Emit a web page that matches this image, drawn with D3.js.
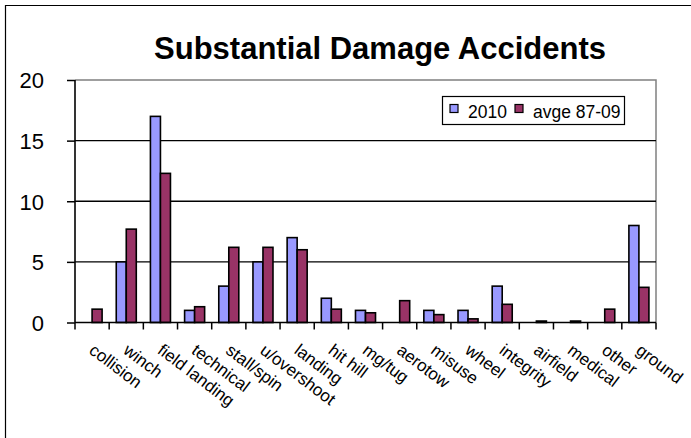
<!DOCTYPE html>
<html><head><meta charset="utf-8">
<script src="https://cdn.jsdelivr.net/npm/d3@7"></script>
<style>body{margin:0;background:#fff}svg{display:block;font-family:"Liberation Sans",Arial,sans-serif}</style>
</head><body><svg id="c" width="691" height="438"></svg>
<script>
const categories = ["collision","winch","field landing","technical","stall/spin","u/overshoot","landing","hit hill","mg/tug","aerotow","misuse","wheel","integrity","airfield","medical","other","ground"];
const series = ["2010","avge 87-09"];
const values2010 = [0,5,17,1,3,5,7,2,1,0,1,1,3,0,0,0,8];
const valuesAvge = [1.1,7.7,12.3,1.3,6.2,6.2,6.0,1.1,0.8,1.8,0.65,0.3,1.5,0.12,0.12,1.1,2.9];
const yTicks = [0,5,10,15,20];
const colors = ["#9999FF","#993366"];
const title = "Substantial Damage Accidents";

const svg = d3.select("#c");
const L=75, R=656, T=80, B=322.5;
const x = d3.scaleBand().domain(categories).range([L,R]).padding(0);
const bw = x.bandwidth();
const xs = d3.scaleBand().domain(series).range([bw*0.207, bw*0.793]).padding(0);
const y = d3.scaleLinear().domain([0,20]).range([B,T]);

// outer frame (left & top visible)
svg.append("path").attr("d","M5.5,438 V5.5 H691").attr("fill","none").attr("stroke","#000").attr("stroke-width",1.2);

// title
svg.append("text").attr("x",380).attr("y",59).attr("text-anchor","middle")
  .attr("font-size",31).attr("font-weight","bold").text(title);

// plot area border (top/right gray)
svg.append("path").attr("d",`M${L},${T} H${R} V${B}`).attr("fill","none").attr("stroke","#808080").attr("stroke-width",1.5);

// gridlines
svg.append("g").selectAll("line").data(yTicks.filter(d=>d>0&&d<20)).join("line")
  .attr("x1",L).attr("x2",R).attr("y1",d=>y(d)).attr("y2",d=>y(d))
  .attr("stroke","#000").attr("stroke-width",1.3);

// bars
const data = categories.map((c,i)=>({c, vals:[values2010[i],valuesAvge[i]]}));
const g = svg.append("g").selectAll("g").data(data).join("g").attr("transform",d=>`translate(${x(d.c)},0)`);
g.selectAll("rect").data(d=>d.vals.map((v,k)=>({v,s:series[k],k})).filter(e=>e.v>0)).join("rect")
  .attr("x",d=>xs(d.s)).attr("width",xs.bandwidth())
  .attr("y",d=>y(d.v)).attr("height",d=>B-y(d.v))
  .attr("fill",d=>colors[d.k]).attr("stroke","#000").attr("stroke-width",1.6);

// y axis
const ya = svg.append("g").attr("transform",`translate(${L},0)`)
  .call(d3.axisLeft(y).tickValues(yTicks).tickSize(8).tickPadding(23));
ya.select(".domain").attr("stroke","#000").attr("stroke-width",1.6).attr("d",`M0,${T}V${B}`);
ya.selectAll(".tick line").attr("stroke","#000").attr("stroke-width",1.5);
ya.selectAll(".tick text").attr("font-size",22).attr("font-family","Liberation Sans, Arial").attr("fill","#000").attr("dy","0.36em");

// x axis
const xa = svg.append("g").attr("transform",`translate(0,${B})`)
  .call(d3.axisBottom(x).tickSize(0).tickFormat(""));
xa.select(".domain").attr("stroke","#000").attr("stroke-width",1.6).attr("d",`M${L},0H${R}`);
xa.selectAll(".tick").remove();
xa.selectAll("line.sep").data(d3.range(categories.length+1)).join("line").attr("class","sep")
  .attr("x1",i=>L+i*bw).attr("x2",i=>L+i*bw).attr("y1",0).attr("y2",7)
  .attr("stroke","#000").attr("stroke-width",1.5);
xa.selectAll("text.lbl").data(categories).join("text").attr("class","lbl")
  .attr("transform",d=>`translate(${x(d)+bw/2-4},${30}) rotate(37)`)
  .attr("font-size",17).attr("font-family","Liberation Sans, Arial").attr("fill","#000")
  .attr("text-anchor","start").text(d=>d);

// legend
const lg = svg.append("g");
lg.append("rect").attr("x",442.5).attr("y",96.5).attr("width",182).attr("height",28)
  .attr("fill","#fff").attr("stroke","#000").attr("stroke-width",1.2);
const items = [{s:series[0],x:450,tx:468},{s:series[1],x:515,tx:533}];
items.forEach((it,k)=>{
  lg.append("rect").attr("x",it.x).attr("y",104.5).attr("width",8).attr("height",8)
    .attr("fill",colors[k]).attr("stroke","#000").attr("stroke-width",1.2);
  lg.append("text").attr("x",it.tx).attr("y",117.5).attr("font-size",17.5).text(it.s);
});
</script></body></html>
